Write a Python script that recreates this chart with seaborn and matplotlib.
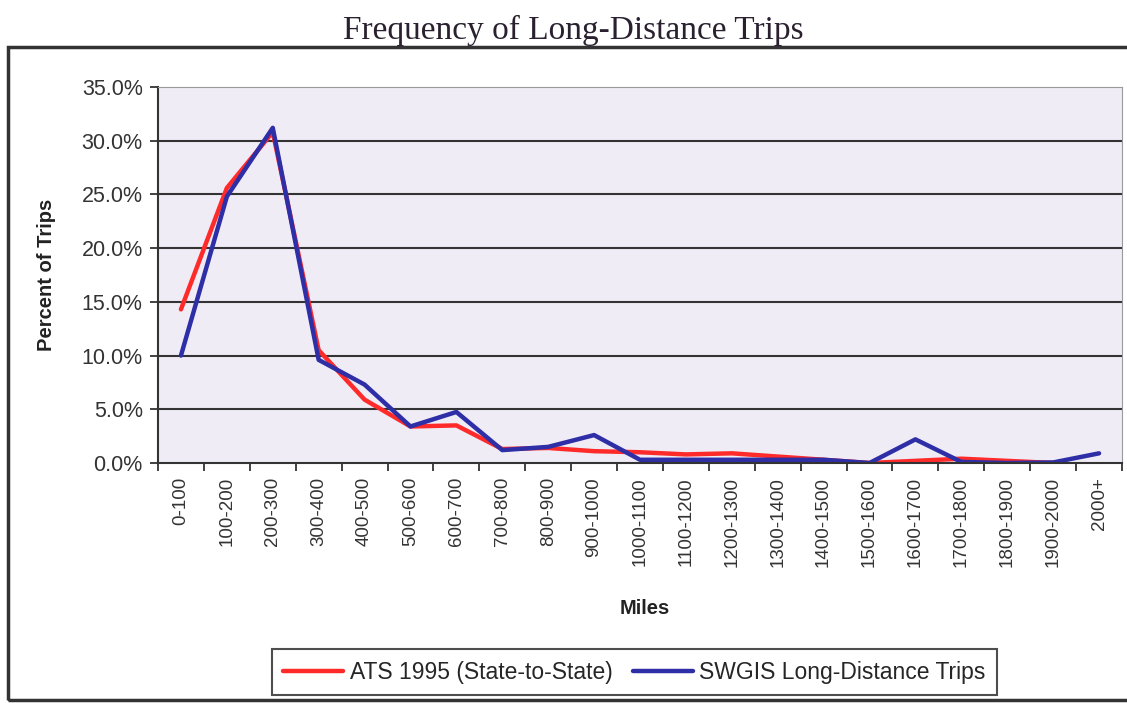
"""Frequency of long-distance trips: ATS 1995 vs SWGIS, redrawn with seaborn"""

import matplotlib
matplotlib.use('Agg')
import matplotlib.pyplot as plt
from matplotlib.patches import Rectangle
from matplotlib.ticker import PercentFormatter, FixedLocator
import numpy as np
import pandas as pd
import seaborn as sns

# distance bands (miles)
miles = ['0-100', '100-200', '200-300', '300-400', '400-500', '500-600',
         '600-700', '700-800', '800-900', '900-1000', '1000-1100',
         '1100-1200', '1200-1300', '1300-1400', '1400-1500', '1500-1600',
         '1600-1700', '1700-1800', '1800-1900', '1900-2000', '2000+']

# percent of trips
ats_1995 = [14.3, 25.6, 30.8, 10.5, 5.9, 3.4, 3.5, 1.3, 1.4, 1.1, 1.0,
            0.8, 0.9, 0.6, 0.3, 0.0, 0.2, 0.4, 0.2, 0.0, np.nan]
swgis = [10.0, 24.8, 31.2, 9.6, 7.3, 3.4, 4.75, 1.2, 1.5, 2.6, 0.3,
         0.3, 0.3, 0.3, 0.3, 0.0, 2.2, 0.1, 0.0, 0.05, 0.9]

series_names = ['ATS 1995 (State-to-State)', 'SWGIS Long-Distance Trips']
colors = ['#FF2A2A', '#2E2EA6']

# long-form table for seaborn
df = pd.concat([
    pd.DataFrame({'Miles': miles, 'Percent': ats_1995, 'Series': series_names[0]}),
    pd.DataFrame({'Miles': miles, 'Percent': swgis, 'Series': series_names[1]}),
], ignore_index=True)

sns.set_style('white')
plt.rcParams['font.family'] = ['Liberation Sans', 'DejaVu Sans']

fig = plt.figure(figsize=(11.27, 7.03), dpi=100)
ax = fig.add_axes([158 / 1127, 240 / 703, 964 / 1127, 376 / 703])
ax.set_facecolor('#F0ECF6')

sns.lineplot(data=df, x='Miles', y='Percent', hue='Series',
             palette=colors, linewidth=3.2, sort=False, ax=ax)
for ln in ax.lines:
    ln.set_solid_joinstyle('round')
    ln.set_solid_capstyle('round')

# axes, grid
ax.set_xlim(-0.5, len(miles) - 0.5)
ax.set_ylim(0, 35)
ax.set_yticks(np.arange(0, 36, 5))
ax.yaxis.set_major_formatter(PercentFormatter(xmax=100, decimals=1))
ax.grid(axis='y', color='#333333', linewidth=1.5)
ax.get_ygridlines()[-1].set_visible(False)
ax.get_ygridlines()[0].set_visible(False)
ax.set_axisbelow(True)

for side in ['left', 'bottom']:
    ax.spines[side].set_color('#333333')
    ax.spines[side].set_linewidth(1.5)
for side in ['top', 'right']:
    ax.spines[side].set_color('#9a9a9a')
    ax.spines[side].set_linewidth(0.8)

ax.tick_params(axis='y', which='major', length=6, width=1.3, color='#333333',
               pad=5, labelsize=15.5, labelcolor='#333333', left=True)
ax.tick_params(axis='x', which='major', length=0, pad=10, labelsize=13.5,
               labelrotation=90, labelcolor='#333333', bottom=True)
ax.xaxis.set_minor_locator(FixedLocator(np.arange(-0.5, len(miles), 1.0)))
ax.tick_params(axis='x', which='minor', length=6, width=1.3, color='#333333',
               bottom=True)

ax.set_xlabel('Miles', fontsize=14.5, fontweight='bold', color='#222222')
ax.xaxis.set_label_coords(0.505, -0.362)
ax.set_ylabel('Percent of Trips', fontsize=14.5, fontweight='bold', color='#222222')
ax.yaxis.set_label_coords(-0.106, 0.5)

# legend at bottom of the chart frame
handles, labels = ax.get_legend_handles_labels()
ax.get_legend().remove()
leg = fig.legend(handles, labels, loc='lower center', ncol=2,
                 bbox_to_anchor=(0.563, 0.011), borderaxespad=0,
                 fontsize=16.5, frameon=True,
                 fancybox=False, edgecolor='#222222', handlelength=2.6,
                 handletextpad=0.3, columnspacing=0.9, borderpad=0.5)
leg.get_frame().set_linewidth(1.5)

# outer chart frame and title
fig.add_artist(Rectangle((8 / 1127, 3 / 703), 1.0, 653 / 703,
                         transform=fig.transFigure, fill=False,
                         edgecolor='#333333', linewidth=2.5))
fig.text(0.509, 0.956, 'Frequency of Long-Distance Trips', ha='center',
         va='center', fontsize=24, color='#2a2030',
         family=['Liberation Serif', 'DejaVu Serif'])

plt.savefig('out.png', dpi=100)
